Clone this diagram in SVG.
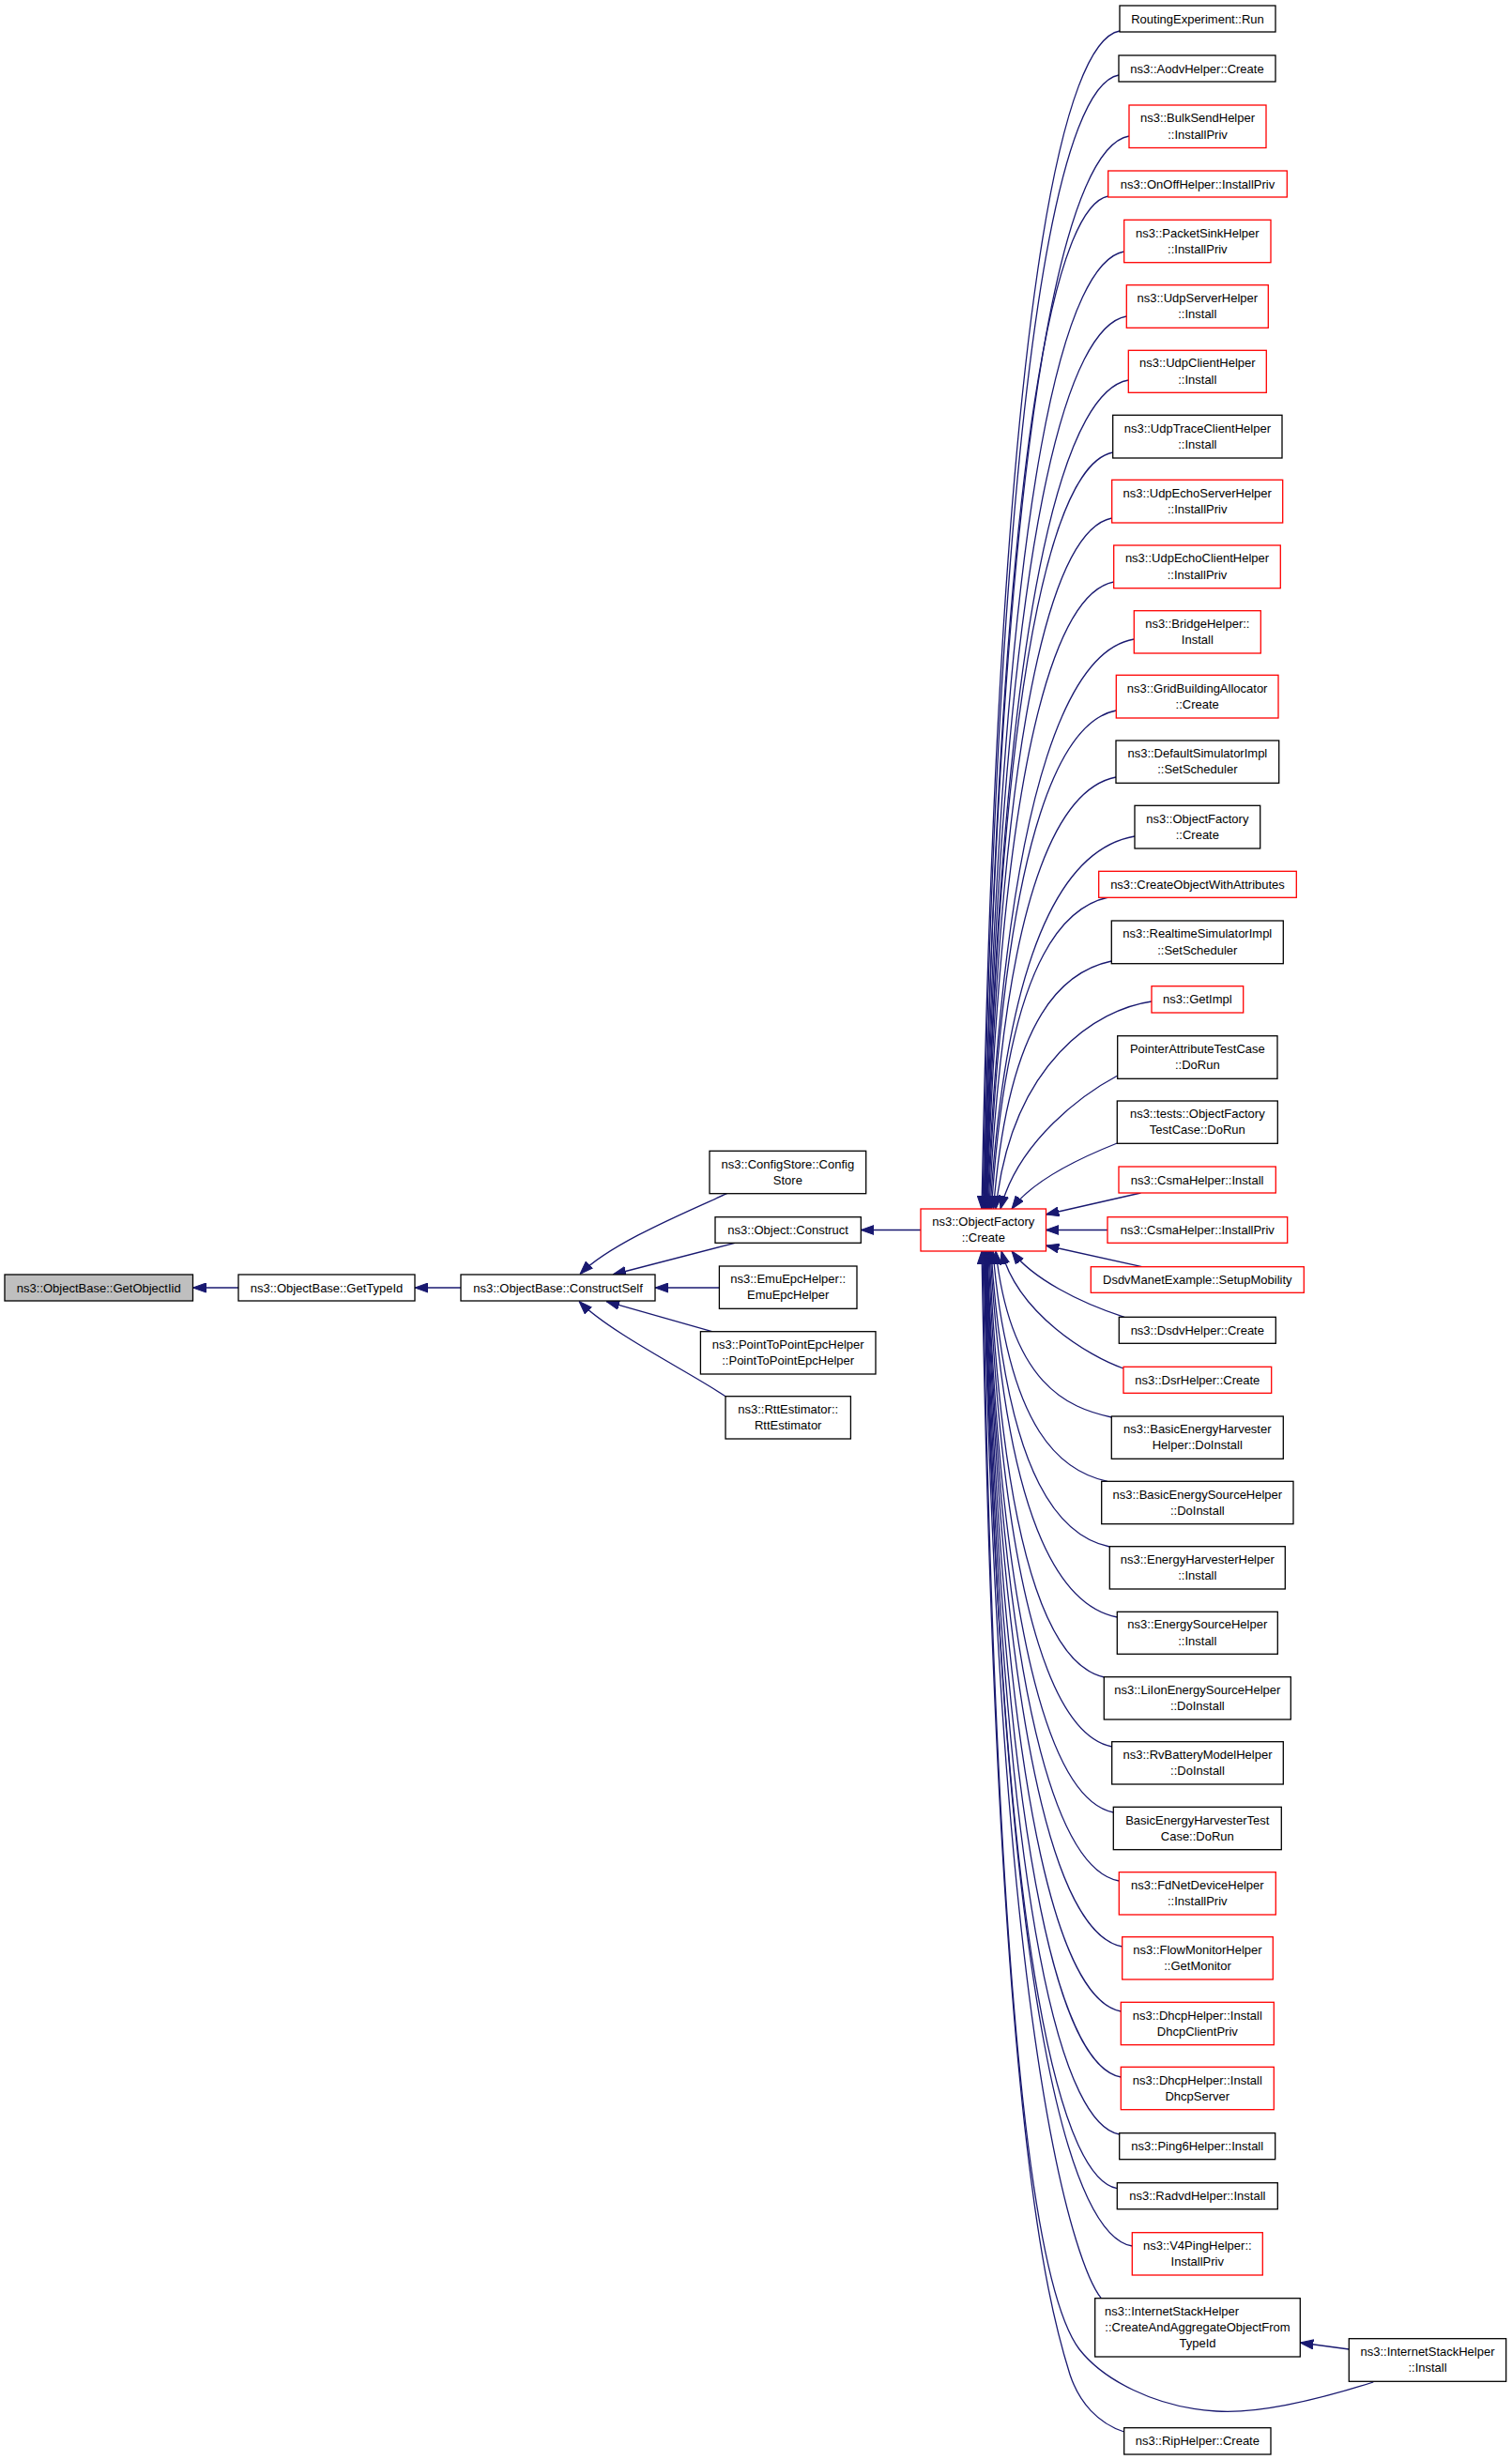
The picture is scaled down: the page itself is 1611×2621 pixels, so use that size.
<svg xmlns="http://www.w3.org/2000/svg" width="1611" height="2621" viewBox="0 0 1611 2621">
<defs>
<style>
.n{fill:#ffffff;stroke:#000000;stroke-width:1.3}
.r{fill:#ffffff;stroke:#ff0000;stroke-width:1.3}
.g{fill:#bfbfbf;stroke:#000000;stroke-width:1.3}
text{font-family:"Liberation Sans",Arial,Helvetica,sans-serif;font-size:13px;fill:#000000;text-anchor:middle}
.e{fill:none;stroke:#191970;stroke-width:1.3;marker-end:url(#a)}
</style>
<marker id="a" markerUnits="userSpaceOnUse" markerWidth="14" markerHeight="11" viewBox="0 0 14 11" refX="14" refY="5.5" orient="auto">
<path d="M0,0.5 L14,5.5 L0,10.5 z" fill="#191970" stroke="#191970" stroke-width="1"/>
</marker>
</defs>
<rect x="0" y="0" width="1611" height="2621" fill="#ffffff"/>
<g id="edges">
<path class="e" d="M254,1372 L205.5,1372"/>
<path class="e" d="M491,1372 L442,1372"/>
<path class="e" d="M774.5,1271.7 C730,1292 650,1325 618,1357.5"/>
<path class="e" d="M783,1324.3 L653,1358"/>
<path class="e" d="M766.4,1372 L698,1372"/>
<path class="e" d="M758.6,1418.7 L646,1386.5"/>
<path class="e" d="M773,1487.7 C735,1462 650,1420 617,1386.5"/>
<path class="e" d="M981,1310.5 L917.3,1310.5"/>
<path class="e" d="M1193,33 C1137.1,43 1065.1,284 1046,1288"/>
<path class="e" d="M1192,80 C1136.9,90 1065.9,321.6 1047,1288"/>
<path class="e" d="M1203,145 C1144.1,155 1068.2,373.6 1048,1288"/>
<path class="e" d="M1180.7,209 C1130.5,219 1065.7,424.8 1048.5,1288"/>
<path class="e" d="M1197.7,268 C1141.2,278 1068.3,472 1049,1288"/>
<path class="e" d="M1200.3,337 C1143,347 1069.1,527.2 1049.5,1288"/>
<path class="e" d="M1202.3,405 C1144.4,415 1069.8,581.6 1050,1288"/>
<path class="e" d="M1185.7,482 C1134.3,492 1068.1,643.2 1050.5,1288"/>
<path class="e" d="M1184.7,552 C1133.9,562 1068.4,699.2 1051,1288"/>
<path class="e" d="M1186.7,620 C1135.3,630 1069.1,753.6 1051.5,1288"/>
<path class="e" d="M1208.3,681 C1148.9,691 1072.3,802.4 1052,1288"/>
<path class="e" d="M1189.3,757 C1137.5,767 1070.7,863.2 1053,1288"/>
<path class="e" d="M1189,828 C1137.7,838 1071.6,920 1054,1288"/>
<path class="e" d="M1209,891 C1150.5,901 1075,970.4 1055,1288"/>
<path class="e" d="M1181,956 C1133.7,966 1072.7,1022.4 1056.5,1288"/>
<path class="e" d="M1184.3,1024 C1136.5,1034 1074.9,1076.8 1058.5,1288"/>
<path class="e" d="M1227,1067 C1170,1075 1078,1130 1061,1288"/>
<path class="e" d="M1190.7,1146 C1155,1165 1085,1215 1066,1288"/>
<path class="e" d="M1190.3,1218 C1150,1234 1100,1258 1078,1288"/>
<path class="e" d="M1215.5,1271 L1114.3,1294"/>
<path class="e" d="M1180,1310.5 L1114.3,1310.5"/>
<path class="e" d="M1216.7,1349.7 L1114.3,1327"/>
<path class="e" d="M1198,1403.3 C1150,1388 1100,1362 1078,1333"/>
<path class="e" d="M1197,1458 C1160,1445 1085,1400 1067,1333"/>
<path class="e" d="M1184.3,1510 C1137.4,1500 1077,1474.6 1061,1333"/>
<path class="e" d="M1180,1578.3 C1133.6,1568.3 1073.9,1529.2 1058,1333"/>
<path class="e" d="M1182.3,1648 C1134.3,1638 1072.4,1585 1056,1333"/>
<path class="e" d="M1190.3,1723 C1138.9,1713 1072.6,1645 1055,1333"/>
<path class="e" d="M1176.7,1787 C1130.1,1777 1070,1696.2 1054,1333"/>
<path class="e" d="M1184.7,1861 C1134.7,1851 1070.1,1755.4 1053,1333"/>
<path class="e" d="M1186.3,1931 C1135.3,1921 1069.5,1811.4 1052,1333"/>
<path class="e" d="M1192.3,2004 C1138.8,1994 1069.8,1869.8 1051.5,1333"/>
<path class="e" d="M1195.7,2074 C1140.7,2064 1069.8,1925.8 1051,1333"/>
<path class="e" d="M1194.3,2143 C1139.7,2133 1069.2,1981 1050.5,1333"/>
<path class="e" d="M1194.3,2213 C1139.5,2203 1068.8,2037 1050,1333"/>
<path class="e" d="M1192.7,2274 C1138.3,2264 1068.1,2085.8 1049.5,1333"/>
<path class="e" d="M1190.3,2331.7 C1136.6,2321.7 1067.4,2132 1049,1333"/>
<path class="e" d="M1206.3,2393 C1146.3,2383 1069,2181 1048.5,1333"/>
<path class="e" d="M1173.3,2448.7 C1150,2420 1066,2215 1048,1333"/>
<path class="e" d="M1463.3,2538 C1400,2558 1340,2572 1296,2569 C1230,2565 1175,2535 1150,2503 C1110,2450 1063,2230 1047,1333"/>
<path class="e" d="M1197.7,2591 C1170,2582 1150,2560 1140,2530 C1115,2450 1062,2250 1046,1333"/>
<path class="e" d="M1437.3,2503 L1385.3,2496"/>
</g>
<g id="node-GetObjectIid"><rect class="g" x="5" y="1358" width="200.5" height="28"/><text x="105.25" y="1376.5">ns3::ObjectBase::GetObjectIid</text></g>
<g id="node-GetTypeId"><rect class="n" x="254" y="1358" width="188" height="28"/><text x="348" y="1376.5">ns3::ObjectBase::GetTypeId</text></g>
<g id="node-ConstructSelf"><rect class="n" x="491" y="1358" width="207" height="28"/><text x="594.5" y="1376.5">ns3::ObjectBase::ConstructSelf</text></g>
<g id="node-ConfigStore"><rect class="n" x="756" y="1226.3" width="166.7" height="45.4"/><text x="839.35" y="1244.5">ns3::ConfigStore::Config</text><text x="839.35" y="1261.8">Store</text></g>
<g id="node-ObjectConstruct"><rect class="n" x="762" y="1296.7" width="155.3" height="27.6"/><text x="839.65" y="1315">ns3::Object::Construct</text></g>
<g id="node-EmuEpcHelper"><rect class="n" x="766.4" y="1349" width="146.6" height="45.3"/><text x="839.7" y="1367.15">ns3::EmuEpcHelper::</text><text x="839.7" y="1384.45">EmuEpcHelper</text></g>
<g id="node-PointToPointEpcHelper"><rect class="n" x="746.4" y="1418.7" width="186.6" height="45.3"/><text x="839.7" y="1436.85">ns3::PointToPointEpcHelper</text><text x="839.7" y="1454.15">::PointToPointEpcHelper</text></g>
<g id="node-RttEstimator"><rect class="n" x="773" y="1487.7" width="133.4" height="45.3"/><text x="839.7" y="1505.85">ns3::RttEstimator::</text><text x="839.7" y="1523.15">RttEstimator</text></g>
<g id="node-ObjectFactoryCreate"><rect class="r" x="981" y="1288" width="133.5" height="45"/><text x="1047.75" y="1306">ns3::ObjectFactory</text><text x="1047.75" y="1323.3">::Create</text></g>
<g id="node-1"><rect class="n" x="1193" y="6" width="166" height="28"/><text x="1276" y="24.5">RoutingExperiment::Run</text></g>
<g id="node-2"><rect class="n" x="1192" y="59" width="167" height="28"/><text x="1275.5" y="77.5">ns3::AodvHelper::Create</text></g>
<g id="node-3"><rect class="r" x="1203" y="112" width="146" height="45.5"/><text x="1276" y="130.25">ns3::BulkSendHelper</text><text x="1276" y="147.55">::InstallPriv</text></g>
<g id="node-4"><rect class="r" x="1180.7" y="182" width="190.6" height="28"/><text x="1276" y="200.5">ns3::OnOffHelper::InstallPriv</text></g>
<g id="node-5"><rect class="r" x="1197.7" y="234.3" width="156.3" height="45.4"/><text x="1275.85" y="252.5">ns3::PacketSinkHelper</text><text x="1275.85" y="269.8">::InstallPriv</text></g>
<g id="node-6"><rect class="r" x="1200.3" y="303.7" width="151" height="45.6"/><text x="1275.8" y="322">ns3::UdpServerHelper</text><text x="1275.8" y="339.3">::Install</text></g>
<g id="node-7"><rect class="r" x="1202.3" y="373.3" width="147" height="45"/><text x="1275.8" y="391.3">ns3::UdpClientHelper</text><text x="1275.8" y="408.6">::Install</text></g>
<g id="node-8"><rect class="n" x="1185.7" y="442.3" width="180.3" height="45.7"/><text x="1275.85" y="460.65">ns3::UdpTraceClientHelper</text><text x="1275.85" y="477.95">::Install</text></g>
<g id="node-9"><rect class="r" x="1184.7" y="511.3" width="182" height="45.7"/><text x="1275.7" y="529.65">ns3::UdpEchoServerHelper</text><text x="1275.7" y="546.95">::InstallPriv</text></g>
<g id="node-10"><rect class="r" x="1186.7" y="581" width="177.6" height="45.7"/><text x="1275.5" y="599.35">ns3::UdpEchoClientHelper</text><text x="1275.5" y="616.65">::InstallPriv</text></g>
<g id="node-11"><rect class="r" x="1208.3" y="650.7" width="135" height="45.3"/><text x="1275.8" y="668.85">ns3::BridgeHelper::</text><text x="1275.8" y="686.15">Install</text></g>
<g id="node-12"><rect class="r" x="1189.3" y="719.3" width="172.7" height="45.7"/><text x="1275.65" y="737.65">ns3::GridBuildingAllocator</text><text x="1275.65" y="754.95">::Create</text></g>
<g id="node-13"><rect class="n" x="1189" y="789" width="173.7" height="45.3"/><text x="1275.85" y="807.15">ns3::DefaultSimulatorImpl</text><text x="1275.85" y="824.45">::SetScheduler</text></g>
<g id="node-14"><rect class="n" x="1209" y="858.3" width="133.7" height="45.7"/><text x="1275.85" y="876.65">ns3::ObjectFactory</text><text x="1275.85" y="893.95">::Create</text></g>
<g id="node-15"><rect class="r" x="1170.7" y="928.3" width="210.6" height="28"/><text x="1276" y="946.8">ns3::CreateObjectWithAttributes</text></g>
<g id="node-16"><rect class="n" x="1184.3" y="981" width="183" height="45.7"/><text x="1275.8" y="999.35">ns3::RealtimeSimulatorImpl</text><text x="1275.8" y="1016.65">::SetScheduler</text></g>
<g id="node-17"><rect class="r" x="1227" y="1050.7" width="97.7" height="28.3"/><text x="1275.85" y="1069.35">ns3::GetImpl</text></g>
<g id="node-18"><rect class="n" x="1190.7" y="1103.7" width="170.3" height="45.6"/><text x="1275.85" y="1122">PointerAttributeTestCase</text><text x="1275.85" y="1139.3">::DoRun</text></g>
<g id="node-19"><rect class="n" x="1190.3" y="1173" width="171" height="45.3"/><text x="1275.8" y="1191.15">ns3::tests::ObjectFactory</text><text x="1275.8" y="1208.45">TestCase::DoRun</text></g>
<g id="node-20"><rect class="r" x="1192" y="1243" width="167.3" height="28"/><text x="1275.65" y="1261.5">ns3::CsmaHelper::Install</text></g>
<g id="node-21"><rect class="r" x="1180" y="1296.7" width="191.7" height="27.6"/><text x="1275.85" y="1315">ns3::CsmaHelper::InstallPriv</text></g>
<g id="node-22"><rect class="r" x="1162.3" y="1349.7" width="227" height="27.6"/><text x="1275.8" y="1368">DsdvManetExample::SetupMobility</text></g>
<g id="node-23"><rect class="n" x="1192.3" y="1403.3" width="167" height="28"/><text x="1275.8" y="1421.8">ns3::DsdvHelper::Create</text></g>
<g id="node-24"><rect class="r" x="1197" y="1456.3" width="157.7" height="28"/><text x="1275.85" y="1474.8">ns3::DsrHelper::Create</text></g>
<g id="node-25"><rect class="n" x="1184.3" y="1509" width="183" height="45.3"/><text x="1275.8" y="1527.15">ns3::BasicEnergyHarvester</text><text x="1275.8" y="1544.45">Helper::DoInstall</text></g>
<g id="node-26"><rect class="n" x="1173.7" y="1578.3" width="204.3" height="45.4"/><text x="1275.85" y="1596.5">ns3::BasicEnergySourceHelper</text><text x="1275.85" y="1613.8">::DoInstall</text></g>
<g id="node-27"><rect class="n" x="1182.3" y="1647.7" width="187" height="45.3"/><text x="1275.8" y="1665.85">ns3::EnergyHarvesterHelper</text><text x="1275.8" y="1683.15">::Install</text></g>
<g id="node-28"><rect class="n" x="1190.3" y="1717.3" width="171" height="45"/><text x="1275.8" y="1735.3">ns3::EnergySourceHelper</text><text x="1275.8" y="1752.6">::Install</text></g>
<g id="node-29"><rect class="n" x="1176.3" y="1786.7" width="199" height="45.3"/><text x="1275.8" y="1804.85">ns3::LiIonEnergySourceHelper</text><text x="1275.8" y="1822.15">::DoInstall</text></g>
<g id="node-30"><rect class="n" x="1184.7" y="1855.7" width="182.6" height="45.3"/><text x="1276" y="1873.85">ns3::RvBatteryModelHelper</text><text x="1276" y="1891.15">::DoInstall</text></g>
<g id="node-31"><rect class="n" x="1186.3" y="1925.3" width="179" height="45.4"/><text x="1275.8" y="1943.5">BasicEnergyHarvesterTest</text><text x="1275.8" y="1960.8">Case::DoRun</text></g>
<g id="node-32"><rect class="r" x="1192.3" y="1994.7" width="167" height="45.3"/><text x="1275.8" y="2012.85">ns3::FdNetDeviceHelper</text><text x="1275.8" y="2030.15">::InstallPriv</text></g>
<g id="node-33"><rect class="r" x="1195.7" y="2063.7" width="160.6" height="45.3"/><text x="1276" y="2081.85">ns3::FlowMonitorHelper</text><text x="1276" y="2099.15">::GetMonitor</text></g>
<g id="node-34"><rect class="r" x="1194.3" y="2133.3" width="163" height="45.4"/><text x="1275.8" y="2151.5">ns3::DhcpHelper::Install</text><text x="1275.8" y="2168.8">DhcpClientPriv</text></g>
<g id="node-35"><rect class="r" x="1194.3" y="2202.3" width="163" height="45.4"/><text x="1275.8" y="2220.5">ns3::DhcpHelper::Install</text><text x="1275.8" y="2237.8">DhcpServer</text></g>
<g id="node-36"><rect class="n" x="1192.7" y="2272.7" width="166" height="28"/><text x="1275.7" y="2291.2">ns3::Ping6Helper::Install</text></g>
<g id="node-37"><rect class="n" x="1190.3" y="2325.7" width="171" height="28"/><text x="1275.8" y="2344.2">ns3::RadvdHelper::Install</text></g>
<g id="node-38"><rect class="r" x="1206.3" y="2378.7" width="139" height="45.3"/><text x="1275.8" y="2396.85">ns3::V4PingHelper::</text><text x="1275.8" y="2414.15">InstallPriv</text></g>
<g id="node-39"><rect class="n" x="1166.7" y="2448.7" width="218.6" height="62.3"/><text x="1177" y="2466.85" style="text-anchor:start">ns3::InternetStackHelper</text><text x="1276" y="2484.15">::CreateAndAggregateObjectFrom</text><text x="1276" y="2501.45">TypeId</text></g>
<g id="node-40"><rect class="n" x="1197.7" y="2586.7" width="156.3" height="28.3"/><text x="1275.85" y="2605.35">ns3::RipHelper::Create</text></g>
<g id="node-41"><rect class="n" x="1437.3" y="2491.7" width="167.4" height="45.6"/><text x="1521" y="2510">ns3::InternetStackHelper</text><text x="1521" y="2527.3">::Install</text></g>
</svg>
